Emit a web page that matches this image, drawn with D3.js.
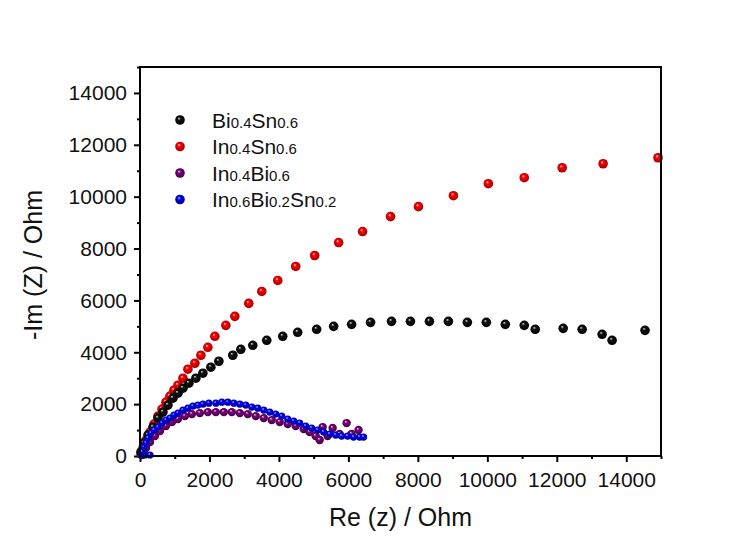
<!DOCTYPE html>
<html>
<head>
<meta charset="utf-8">
<script src="https://cdn.jsdelivr.net/npm/d3@7"></script>
<style>
  body { margin: 0; background: #fff; }
  text { font-family: Arial, "Liberation Sans", sans-serif; fill: #111; }
</style>
</head>
<body>
<svg id="chart" width="756" height="537"></svg>
<script>
// axis ticks
var majorTicks = [0, 2000, 4000, 6000, 8000, 10000, 12000, 14000];
var minorTicks = [1000, 3000, 5000, 7000, 9000, 11000, 13000, 15000];

// series names (main part + subscript parts) and colours
var seriesNames = [
  [["Bi", 0], ["0.4", 1], ["Sn", 0], ["0.6", 1]],
  [["In", 0], ["0.4", 1], ["Sn", 0], ["0.6", 1]],
  [["In", 0], ["0.4", 1], ["Bi", 0], ["0.6", 1]],
  [["In", 0], ["0.6", 1], ["Bi", 0], ["0.2", 1], ["Sn", 0], ["0.2", 1]]
];
var seriesColors = ["#111111", "#ff0000", "#800080", "#0000ff"];

// Bi0.4Sn0.6  [Re, -Im]
var biSn = [
  [29,154],[115,500],[230,808],[374,1115],[517,1462],[661,1692],[805,1962],
  [948,2231],[1092,2423],[1236,2615],[1408,2808],[1609,3000],[1810,3192],
  [2040,3423],[2270,3654],[2672,3885],[2902,4115],[3247,4269],[3649,4462],
  [4109,4615],[4540,4769],[5086,4885],[5575,5000],[6092,5077],[6638,5154],
  [7241,5192],[7787,5192],[8333,5192],[8879,5192],[9425,5154],[9971,5154],
  [10517,5077],[11063,5038],[11379,4885],[12184,4923],[12730,4885],
  [13305,4692],[13592,4462],[14540,4846]
];

// In0.4Sn0.6
var inSn = [
  [29,77],[86,308],[172,615],[287,923],[402,1231],[517,1538],[632,1808],
  [747,2077],[862,2308],[977,2538],[1092,2731],[1236,3000],[1379,3346],
  [1580,3577],[1753,3885],[1954,4192],[2155,4615],[2471,5038],[2730,5385],
  [3132,5885],[3506,6346],[3966,6769],[4483,7308],[5029,7731],[5718,8231],
  [6408,8654],[7213,9231],[8017,9615],[9023,10038],[10029,10500],
  [11063,10731],[12155,11115],[13333,11269],[14914,11500]
];

// In0.4Bi0.6
var inBi = [
  [57,38],[172,308],[287,538],[431,769],[575,962],[747,1154],[920,1308],
  [1092,1423],[1293,1538],[1494,1615],[1724,1654],[1954,1692],[2184,1692],
  [2414,1692],[2644,1692],[2874,1654],[3103,1615],[3333,1538],[3563,1462],
  [3793,1385],[4023,1308],[4253,1231],[4483,1154],[4713,1038],[4885,923],
  [5057,769],[5172,615],[5259,1115],[5402,769],[5546,1077],[5747,846],
  [5948,1269],[6092,846],[6293,1000]
];

// In0.6Bi0.2Sn0.2
var inBiSn = [
  [29,38],[144,38],[287,38],[57,154],[115,346],[172,500],[230,692],[316,885],
  [402,1000],[517,1115],[632,1269],[747,1385],[862,1462],[977,1577],
  [1092,1654],[1236,1769],[1379,1846],[1523,1923],[1667,1962],[1810,2000],
  [1983,2038],[2184,2038],[2356,2077],[2529,2077],[2701,2038],[2874,2000],
  [3046,1962],[3218,1885],[3391,1846],[3563,1769],[3736,1692],[3908,1615],
  [4080,1538],[4253,1423],[4425,1346],[4598,1269],[4770,1154],[4943,1077],
  [5115,1000],[5287,923],[5460,846],[5632,808],[5805,769],[5977,769],
  [6149,731],[6322,731],[6437,731]
];

var seriesData = [biSn, inSn, inBi, inBiSn];
var seriesRadius = [4.8, 4.8, 4.2, 3.6];
var drawOrder = [1, 0, 2, 3];

var svg = d3.select("#chart");
var mLeft = 140, mRight = 661, mTop = 67, mBottom = 456;

var x = d3.scaleLinear().domain([0, 15000]).range([mLeft, mRight]);
var y = d3.scaleLinear().domain([0, 15000]).range([mBottom, mTop]);

// sphere gradients
var defs = svg.append("defs");
var dark = ["#000000", "#9a0000", "#3c003c", "#00008a"];
var light = ["#d8d8d8", "#ffe0e0", "#f0d8f0", "#dde6ff"];
seriesColors.forEach(function(c, i) {
  var g = defs.append("radialGradient").attr("id", "ball" + i)
    .attr("cx", "50%").attr("cy", "50%").attr("r", "55%")
    .attr("fx", "38%").attr("fy", "32%");
  g.append("stop").attr("offset", "0%").attr("stop-color", light[i]);
  g.append("stop").attr("offset", "30%").attr("stop-color", c);
  g.append("stop").attr("offset", "100%").attr("stop-color", dark[i]);
});

// axes
var xMajor = d3.axisBottom(x).tickValues(majorTicks).tickSize(6).tickPadding(10).tickFormat(d3.format("d"));
var xMinor = d3.axisBottom(x).tickValues(minorTicks).tickSize(3).tickFormat("");
var yMajor = d3.axisLeft(y).tickValues(majorTicks).tickSize(6).tickPadding(7).tickFormat(d3.format("d"));
var yMinor = d3.axisLeft(y).tickValues(minorTicks).tickSize(3).tickFormat("");

function styleAxis(g) {
  g.select(".domain").remove();
  g.selectAll("line").attr("stroke", "#000").attr("stroke-width", 2);
  g.selectAll("text").style("font-size", "21px").attr("fill", "#111");
}
svg.append("g").attr("transform", "translate(0," + mBottom + ")").call(xMajor).call(styleAxis);
svg.append("g").attr("transform", "translate(0," + mBottom + ")").call(xMinor).call(styleAxis);
svg.append("g").attr("transform", "translate(" + mLeft + ",0)").call(yMajor).call(styleAxis);
svg.append("g").attr("transform", "translate(" + mLeft + ",0)").call(yMinor).call(styleAxis);

// points
var plot = svg.append("g");
drawOrder.forEach(function(i) {
  plot.append("g").selectAll("circle")
    .data(seriesData[i])
    .enter().append("circle")
    .attr("cx", function(d) { return x(d[0]); })
    .attr("cy", function(d) { return y(d[1]); })
    .attr("r", seriesRadius[i])
    .attr("fill", "url(#ball" + i + ")");
});

// frame
svg.append("rect")
  .attr("x", mLeft).attr("y", mTop)
  .attr("width", mRight - mLeft).attr("height", mBottom - mTop)
  .attr("fill", "none").attr("stroke", "#000").attr("stroke-width", 2);

// legend
var legend = svg.append("g").attr("transform", "translate(180,120)");
seriesNames.forEach(function(parts, i) {
  var row = legend.append("g").attr("transform", "translate(0," + (i * 26.5) + ")");
  row.append("circle").attr("r", 4.8).attr("fill", "url(#ball" + i + ")");
  var t = row.append("text").attr("x", 32).attr("y", 7.5);
  parts.forEach(function(p) {
    t.append("tspan").text(p[0]).style("font-size", p[1] ? "15px" : "21px");
  });
});

// axis titles
svg.append("text")
  .attr("x", (mLeft + mRight) / 2).attr("y", 526)
  .attr("text-anchor", "middle").style("font-size", "25px")
  .text("Re (z) / Ohm");

svg.append("text")
  .attr("transform", "translate(42," + 265 + ") rotate(-90)")
  .attr("text-anchor", "middle").style("font-size", "25px")
  .text("-Im (Z) / Ohm");
</script>
</body>
</html>
